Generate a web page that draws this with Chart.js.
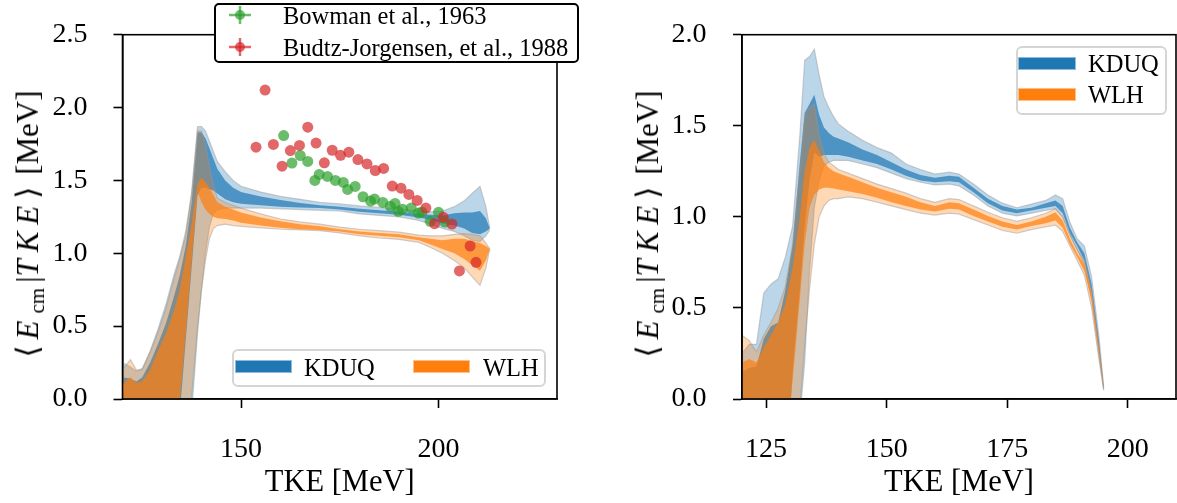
<!DOCTYPE html>
<html>
<head>
<meta charset="utf-8">
<script src="https://cdn.jsdelivr.net/npm/chart.js@4.4.0/dist/chart.umd.min.js"></script>
<style>
  body { margin:0; background:#fff; width:1177px; height:503px; position:relative; overflow:hidden;
         font-family:"Liberation Serif", "DejaVu Serif", serif; color:#000; }
  canvas { position:absolute; top:0; }
  #left { left:0; }
  #right { left:620px; }
  .ylab { position:absolute; font-size:31px; white-space:nowrap; line-height:1;
          transform:translate(-50%,-50%) rotate(-90deg); }
  .ylab i { letter-spacing:7px; }
  .ylab .br { margin:0 6px 0 2px; }
  .ylab .br2 { margin:0 4px 0 0; }
  .ylab sub { font-size:21px; vertical-align:-6px; margin-right:5px; }
  .box { position:absolute; box-sizing:border-box; }
  .txt { position:absolute; font-size:24.5px; line-height:1; white-space:nowrap; transform:translateY(-50%); }
  .patch { position:absolute; box-sizing:border-box; }
</style>
</head>
<body>
<canvas id="left" width="590" height="503"></canvas>
<canvas id="right" width="557" height="503"></canvas>

<div class="ylab" style="left:30px; top:225px;"><span class="br">&#10216;</span><i>E</i><sub>cm</sub>|<i>TKE</i><span class="br2">&#10217;</span> [MeV]</div>
<div class="ylab" style="left:650px; top:225px;"><span class="br">&#10216;</span><i>E</i><sub>cm</sub>|<i>TKE</i><span class="br2">&#10217;</span> [MeV]</div>

<!-- experiment legend, left panel -->
<div class="box" style="left:214px; top:3px; width:365px; height:60px; border:2px solid #000; border-radius:5px; background:#fff;"></div>
<svg style="position:absolute; left:228px; top:4px;" width="26" height="56">
  <g stroke="rgba(44,160,44,0.7)" stroke-width="2.5"><line x1="1" y1="11" x2="23" y2="11"/><line x1="12" y1="2" x2="12" y2="20"/></g>
  <circle cx="12" cy="11" r="5" fill="rgba(44,160,44,0.7)"/>
  <g stroke="rgba(214,39,40,0.7)" stroke-width="2.5"><line x1="1" y1="43" x2="23" y2="43"/><line x1="12" y1="34" x2="12" y2="52"/></g>
  <circle cx="12" cy="43" r="5" fill="rgba(214,39,40,0.7)"/>
</svg>
<div class="txt" style="left:283px; top:16px;">Bowman et al., 1963</div>
<div class="txt" style="left:283px; top:48px;">Budtz-Jorgensen, et al., 1988</div>

<!-- model legend, left panel -->
<div class="box" style="left:232px; top:349px; width:314px; height:38px; border:2px solid #d5d5d5; border-radius:6px; background:rgba(255,255,255,0.8);"></div>
<div class="patch" style="left:235px; top:360px; width:57px; height:13px; background:#1f77b4; border:1.5px solid #8fbbda;"></div>
<div class="txt" style="left:304px; top:368px;">KDUQ</div>
<div class="patch" style="left:413px; top:360px; width:57px; height:13px; background:#ff7f0e; border:1.5px solid #ffbf86;"></div>
<div class="txt" style="left:483px; top:368px;">WLH</div>

<!-- model legend, right panel -->
<div class="box" style="left:1016px; top:46px; width:151px; height:69px; border:2px solid #d5d5d5; border-radius:6px; background:rgba(255,255,255,0.8);"></div>
<div class="patch" style="left:1018px; top:57px; width:58px; height:13px; background:#1f77b4; border:1.5px solid #8fbbda;"></div>
<div class="txt" style="left:1088px; top:64px;">KDUQ</div>
<div class="patch" style="left:1018px; top:88px; width:58px; height:13px; background:#ff7f0e; border:1.5px solid #ffbf86;"></div>
<div class="txt" style="left:1088px; top:95px;">WLH</div>

<script>
// ---------- left panel ----------
const xL = [120, 122, 123.5, 125, 127, 129, 131, 133, 134.5, 136,
            137.5, 139, 140, 141, 142, 143, 144, 146, 148, 150,
            155, 160, 165, 170, 175, 180, 185, 190, 195, 198,
            201, 204, 206.5, 208.5, 210.5, 212, 213];

const kduqOuterHiL = [0.25, 0.22, 0.19, 0.21, 0.33, 0.48, 0.65, 0.85, 0.98, 1.15,
                      1.42, 1.87, 1.87, 1.84, 1.77, 1.70, 1.63, 1.56, 1.50, 1.46,
                      1.42, 1.39, 1.37, 1.35, 1.34, 1.325, 1.315, 1.305, 1.29, 1.285,
                      1.29, 1.32, 1.36, 1.41, 1.46, 1.32, 1.17];
const kduqOuterLoL = [-0.5, -0.5, -0.5, -0.5, -0.5, -0.5, -0.5, -0.5, -0.5, -0.5,
                      -0.1, 0.45, 0.75, 1.0, 1.18, 1.27, 1.30, 1.31, 1.31, 1.31,
                      1.31, 1.305, 1.30, 1.295, 1.29, 1.27, 1.26, 1.25, 1.225, 1.2,
                      1.17, 1.15, 1.12, 1.09, 1.08, 1.12, 1.16];
const kduqInnerHiL = [0.15, 0.14, 0.12, 0.15, 0.25, 0.38, 0.52, 0.7, 0.85, 1.05,
                      1.35, 1.83, 1.83, 1.79, 1.72, 1.65, 1.58, 1.50, 1.45, 1.42,
                      1.39, 1.365, 1.345, 1.33, 1.32, 1.305, 1.295, 1.285, 1.27, 1.265,
                      1.26, 1.275, 1.28, 1.28, 1.29, 1.24, 1.17];
const kduqInnerLoL = [-0.5, -0.5, -0.5, -0.5, -0.5, -0.5, -0.5, -0.5, -0.1, 0.4,
                      0.9, 1.4, 1.45, 1.45, 1.44, 1.43, 1.41, 1.37, 1.35, 1.34,
                      1.33, 1.32, 1.315, 1.31, 1.30, 1.285, 1.275, 1.265, 1.245, 1.23,
                      1.205, 1.19, 1.17, 1.14, 1.13, 1.15, 1.17];
const wlhOuterHiL = [0.2, 0.27, 0.2, 0.2, 0.32, 0.46, 0.62, 0.82, 0.96, 1.12,
                     1.4, 1.84, 1.84, 1.75, 1.6, 1.47, 1.38, 1.35, 1.33, 1.31,
                     1.27, 1.235, 1.215, 1.20, 1.18, 1.165, 1.155, 1.145, 1.125, 1.12,
                     1.12, 1.13, 1.135, 1.13, 1.12, 1.07, 1.03];
const wlhOuterLoL = [-0.5, -0.5, -0.5, -0.5, -0.5, -0.5, -0.5, -0.5, -0.5, -0.4,
                     0.02, 0.5, 0.75, 0.95, 1.1, 1.17, 1.19, 1.20, 1.19, 1.185,
                     1.175, 1.165, 1.16, 1.155, 1.14, 1.12, 1.105, 1.095, 1.075, 1.04,
                     1.0, 0.95, 0.9, 0.84, 0.78, 0.9, 1.03];
const wlhInnerHiL = [0.1, 0.15, 0.11, 0.12, 0.2, 0.33, 0.45, 0.6, 0.75, 0.97,
                     1.2, 1.48, 1.52, 1.49, 1.45, 1.40, 1.35, 1.32, 1.30, 1.28,
                     1.245, 1.22, 1.20, 1.185, 1.165, 1.15, 1.14, 1.13, 1.11, 1.10,
                     1.09, 1.10, 1.10, 1.085, 1.07, 1.05, 1.03];
const wlhInnerLoL = [-0.5, -0.5, -0.5, -0.5, -0.5, -0.5, -0.5, -0.5, 0.0, 0.45,
                     0.95, 1.42, 1.35, 1.30, 1.27, 1.25, 1.24, 1.235, 1.225, 1.21,
                     1.19, 1.175, 1.165, 1.16, 1.15, 1.13, 1.12, 1.11, 1.09, 1.06,
                     1.03, 1.0, 0.96, 0.92, 0.88, 0.95, 1.03];

const bowmanX = [160.8, 162.9, 165.0, 166.9, 168.7, 169.8, 171.9, 173.9, 175.9, 177.0,
                 178.9, 180.9, 182.8, 183.8, 185.9, 187.8, 189.0, 189.8, 190.9, 193.1,
                 194.9, 195.8, 197.9, 200.0, 201.6];
const bowmanY = [1.808, 1.619, 1.671, 1.630, 1.50, 1.541, 1.527, 1.50, 1.486, 1.438,
                 1.459, 1.388, 1.358, 1.372, 1.349, 1.322, 1.342, 1.288, 1.303, 1.31,
                 1.276, 1.283, 1.219, 1.281, 1.214];
const budtzX = [153.8, 156.1, 158.2, 160.4, 162.5, 164.8, 166.9, 169.0, 171.1, 173.1,
                175.2, 177.3, 179.6, 181.9, 184.0, 186.1, 188.3, 190.5, 192.5, 194.6,
                196.8, 199.0, 201.2, 203.4, 205.3, 208.0, 209.5];
const budtzY = [1.728, 2.12, 1.747, 1.598, 1.705, 1.74, 1.865, 1.756, 1.621, 1.707,
                1.672, 1.694, 1.643, 1.613, 1.568, 1.582, 1.461, 1.447, 1.404, 1.363,
                1.31, 1.203, 1.247, 1.201, 0.879, 1.05, 0.938];

// ---------- right panel ----------
const xR = [120, 121.5, 123, 124.5, 126, 127.5, 129, 130.5, 132, 133,
            134, 135, 136, 137, 138, 139, 140, 142,
            145, 148, 151, 154, 157, 160, 163, 165, 168,
            171, 174, 177, 180, 183, 185, 186.5,
            188, 189.5, 191, 192.5, 194, 195];

const kduqOuterHiR = [0.25, 0.30, 0.30, 0.58, 0.63, 0.66, 0.78, 0.95, 1.45, 1.86,
                      1.88, 1.92, 1.78, 1.66, 1.60, 1.55, 1.51, 1.47,
                      1.42, 1.38, 1.35, 1.29, 1.26, 1.235, 1.245, 1.235, 1.18,
                      1.12, 1.075, 1.05, 1.07, 1.09, 1.12, 1.10,
                      0.97, 0.88, 0.84, 0.67, 0.35, 0.07];
const kduqOuterLoR = [-0.5, -0.5, -0.5, -0.5, -0.5, -0.5, -0.5, -0.5, -0.1, 0.2,
                      0.7, 1.05, 1.2, 1.28, 1.30, 1.31, 1.31, 1.31,
                      1.29, 1.27, 1.24, 1.21, 1.19, 1.175, 1.18, 1.17, 1.12,
                      1.06, 1.02, 1.005, 1.02, 1.035, 1.045, 1.0,
                      0.9, 0.82, 0.74, 0.55, 0.25, 0.05];
const kduqInnerHiR = [0.15, 0.17, 0.18, 0.33, 0.40, 0.42, 0.6, 0.85, 1.3, 1.57,
                      1.62, 1.67, 1.56, 1.49, 1.46, 1.44, 1.43, 1.41,
                      1.37, 1.34, 1.30, 1.26, 1.23, 1.215, 1.225, 1.22, 1.16,
                      1.10, 1.06, 1.04, 1.05, 1.075, 1.09, 1.06,
                      0.94, 0.86, 0.80, 0.63, 0.32, 0.06];
const kduqInnerLoR = [-0.5, -0.5, -0.5, -0.5, -0.5, -0.5, -0.5, 0.15, 0.6, 0.95,
                      1.2, 1.35, 1.33, 1.34, 1.34, 1.34, 1.34, 1.33,
                      1.31, 1.29, 1.26, 1.225, 1.20, 1.19, 1.195, 1.19, 1.135,
                      1.075, 1.035, 1.02, 1.035, 1.05, 1.06, 1.02,
                      0.91, 0.84, 0.76, 0.58, 0.28, 0.055];
const wlhOuterHiR = [0.35, 0.32, 0.26, 0.35, 0.42, 0.5, 0.62, 0.85, 1.25, 1.55,
                     1.6, 1.62, 1.45, 1.35, 1.30, 1.28, 1.26, 1.24,
                     1.21, 1.18, 1.155, 1.13, 1.10, 1.08, 1.10, 1.095, 1.06,
                     1.025, 0.995, 0.975, 0.995, 1.02, 1.045, 1.0,
                     0.9, 0.82, 0.76, 0.6, 0.3, 0.06];
const wlhOuterLoR = [-0.5, -0.5, -0.5, -0.5, -0.5, -0.5, -0.5, -0.3, -0.05, 0.3,
                     0.6, 0.85, 1.0, 1.06, 1.09, 1.10, 1.1, 1.11,
                     1.10, 1.08, 1.06, 1.04, 1.02, 1.01, 1.02, 1.015, 0.985,
                     0.955, 0.925, 0.91, 0.93, 0.945, 0.955, 0.92,
                     0.84, 0.76, 0.68, 0.5, 0.22, 0.05];
const wlhInnerHiR = [0.2, 0.22, 0.2, 0.28, 0.35, 0.42, 0.52, 0.72, 1.0, 1.25,
                     1.38, 1.42, 1.36, 1.30, 1.27, 1.25, 1.24, 1.22,
                     1.19, 1.16, 1.135, 1.11, 1.08, 1.06, 1.08, 1.075, 1.04,
                     1.005, 0.975, 0.955, 0.975, 1.0, 1.025, 0.98,
                     0.88, 0.80, 0.74, 0.58, 0.28, 0.06];
const wlhInnerLoR = [-0.5, -0.5, -0.5, -0.5, -0.5, -0.5, -0.25, 0.1, 0.55, 0.85,
                     1.05, 1.12, 1.15, 1.16, 1.16, 1.155, 1.15, 1.14,
                     1.125, 1.105, 1.08, 1.06, 1.04, 1.03, 1.045, 1.04, 1.005,
                     0.975, 0.945, 0.93, 0.95, 0.965, 0.98, 0.94,
                     0.85, 0.78, 0.7, 0.54, 0.25, 0.055];

// ---------- ticks ----------
const xTicksL = [150, 200];
const xTicksR = [125, 150, 175, 200];
const yTicksL = [0, 0.5, 1.0, 1.5, 2.0, 2.5];
const yTicksR = [0, 0.5, 1.0, 1.5, 2.0];

const FONT = '"Liberation Serif", "DejaVu Serif", serif';
const BLUE = '31,119,180';
const ORANGE = '255,127,14';

function pts(xs, ys) {
    return xs.map((x, i) => ({ x: x, y: ys[i] }));
}

function bandSets(xs, lo, hi, rgb, alpha, edge) {
    const line = edge ? 'rgba(150,150,150,0.45)' : 'rgba(0,0,0,0)';
    return [
        { data: pts(xs, lo), borderColor: line, borderWidth: edge ? 1.2 : 0, pointRadius: 0, fill: false },
        { data: pts(xs, hi), borderColor: line, borderWidth: edge ? 1.2 : 0, pointRadius: 0,
          fill: '-1', backgroundColor: `rgba(${rgb},${alpha})` }
    ];
}

function scatterSet(xs, ys, rgb) {
    return { data: pts(xs, ys), showLine: false, pointRadius: 5.5, pointHoverRadius: 5.5,
             pointBorderWidth: 0, pointBackgroundColor: `rgba(${rgb},0.7)`, borderColor: 'transparent' };
}

const frame = {
    id: 'frame',
    afterDatasetsDraw(chart) {
        const { ctx, chartArea: a } = chart;
        ctx.save();
        ctx.strokeStyle = '#000';
        ctx.lineWidth = 1.6;
        ctx.strokeRect(a.left, a.top, a.right - a.left, a.bottom - a.top);
        ctx.restore();
    }
};

// labelLeft: where the y tick labels start; plotLeft: left edge of the plot box
function makeChart(id, datasets, xMin, xMax, xTicks, yMax, yTicks, labelLeft, plotLeft, padRight) {
    new Chart(document.getElementById(id), {
        type: 'line',
        data: { datasets: datasets },
        plugins: [frame],
        options: {
            responsive: false,
            animation: false,
            layout: { padding: { left: labelLeft, right: padRight, top: 34.7, bottom: 0 } },
            plugins: { legend: { display: false }, tooltip: { enabled: false } },
            scales: {
                x: {
                    type: 'linear', min: xMin, max: xMax,
                    afterBuildTicks: s => { s.ticks = xTicks.map(v => ({ value: v })); },
                    afterFit: s => { s.height = 104; },
                    grid: { drawOnChartArea: false, tickLength: 9, tickWidth: 1.6, tickColor: '#000' },
                    border: { color: '#000', width: 1.6 },
                    ticks: { color: '#000', font: { family: FONT, size: 28 }, padding: 25,
                             maxRotation: 0, autoSkip: false },
                    title: { display: true, text: 'TKE [MeV]', color: '#000',
                             font: { family: FONT, size: 30.5 }, padding: { top: 0, bottom: 2 } }
                },
                y: {
                    min: 0, max: yMax,
                    afterBuildTicks: s => { s.ticks = yTicks.map(v => ({ value: v })); },
                    afterFit: s => { s.width = plotLeft - labelLeft; },
                    grid: { drawOnChartArea: false, tickLength: 9, tickWidth: 1.6, tickColor: '#000' },
                    border: { color: '#000', width: 1.6 },
                    ticks: { color: '#000', font: { family: FONT, size: 28 }, padding: 3,
                             crossAlign: 'far', callback: v => Number(v).toFixed(1) }
                }
            }
        }
    });
}

// datasets listed top-most first (Chart.js paints them in reverse order)
const leftSets = [
    scatterSet(budtzX, budtzY, '214,39,40'),
    scatterSet(bowmanX, bowmanY, '44,160,44'),
    ...bandSets(xL, wlhInnerLoL, wlhInnerHiL, ORANGE, 0.7, false),
    ...bandSets(xL, wlhOuterLoL, wlhOuterHiL, ORANGE, 0.3, true),
    ...bandSets(xL, kduqInnerLoL, kduqInnerHiL, BLUE, 0.7, false),
    ...bandSets(xL, kduqOuterLoL, kduqOuterHiL, BLUE, 0.3, true)
];
const rightSets = [
    ...bandSets(xR, wlhInnerLoR, wlhInnerHiR, ORANGE, 0.7, false),
    ...bandSets(xR, wlhOuterLoR, wlhOuterHiR, ORANGE, 0.3, true),
    ...bandSets(xR, kduqInnerLoR, kduqInnerHiR, BLUE, 0.7, false),
    ...bandSets(xR, kduqOuterLoR, kduqOuterHiR, BLUE, 0.3, true)
];

makeChart('left', leftSets, 120, 230, xTicksL, 2.5, yTicksL, 52.5, 122.5, 33);
makeChart('right', rightSets, 120, 210, xTicksR, 2.0, yTicksR, 51.5, 122, 1);
</script>
</body>
</html>
